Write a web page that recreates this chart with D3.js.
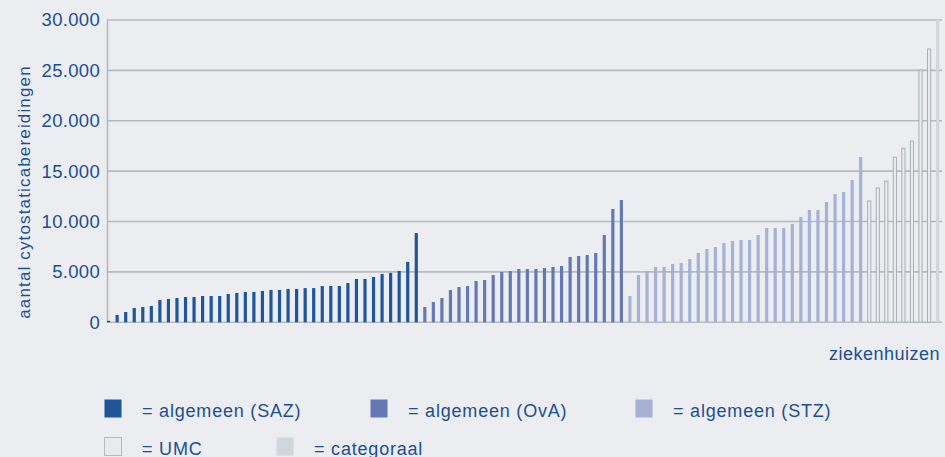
<!DOCTYPE html>
<html>
<head>
<meta charset="utf-8">
<script src="https://cdn.jsdelivr.net/npm/d3@7"></script>
<style>
  body { margin: 0; background: #ecedf0; }
  svg { display: block; font-family: "Liberation Sans", Arial, sans-serif; }
</style>
</head>
<body>
<div id="content"></div>
<script>
// waarden per ziekenhuis, per groep (gesorteerd)
var saz = [150, 720, 1020, 1420, 1520, 1620, 2210, 2310, 2410, 2510, 2510, 2610, 2610, 2610, 2810, 2910, 3010, 3010,
  3110, 3210, 3210, 3310, 3310, 3400, 3400, 3600, 3600, 3600, 3900, 4300, 4300, 4500, 4800, 4900, 5100, 6000, 8860];
var ova = [1520, 2020, 2410, 3200, 3500, 3600, 4100, 4200, 4690, 4990, 5090, 5290, 5290, 5290, 5390, 5490, 5590,
  6480, 6580, 6680, 6880, 8660, 11240, 12140];
var stz = [2610, 4690, 5090, 5490, 5490, 5790, 5890, 6280, 6880, 7270, 7470, 7870, 8070, 8170, 8170, 8660, 9360,
  9360, 9360, 9760, 10450, 11150, 11150, 11940, 12730, 12930, 14120, 16400];
var umc = [12040, 13330, 14020, 16380, 17270, 17990, 25040, 27120];
var categoraal = [30000];

var yTicks = [0, 5000, 10000, 15000, 20000, 25000, 30000];
var groepen = ["saz", "ova", "stz", "umc", "cat"];
var legendaTekst = ["= algemeen (SAZ)", "= algemeen (OvA)", "= algemeen (STZ)", "= UMC", "= categoraal"];

var kleur = { saz: "#1f5599", ova: "#6479b3", stz: "#a6b1d6", umc: "#e8ebee", cat: "#d0d6db" };
var tekstKleur = "#1b4f92";

// alle balken achter elkaar
var data = [];
[[saz, "saz"], [ova, "ova"], [stz, "stz"], [umc, "umc"], [categoraal, "cat"]].forEach(function(g) {
  g[0].forEach(function(v) { data.push({ groep: g[1], waarde: v }); });
});
data.forEach(function(d, i) { d.i = i; });

// dimensiones
var width = 945;
var height = 457;

var svg = d3.select("#content")
  .append("svg")
  .attr("width", width)
  .attr("height", height);

svg.append("rect").attr("width", width).attr("height", height).attr("fill", "#ecedf0");

var x = d3.scaleBand()
  .domain(data.map(function(d) { return d.i; }))
  .range([107, 939.2])
  .paddingInner(0.626)
  .paddingOuter(0)
  .align(0);

var y = d3.scaleLinear()
  .domain([0, 30000])
  .range([322.3, 20]);

// rasterlijnen
svg.append("g")
  .selectAll("line")
  .data(yTicks)
  .enter().append("line")
  .attr("x1", 107)
  .attr("x2", 942)
  .attr("y1", function(d) { return y(d); })
  .attr("y2", function(d) { return y(d); })
  .attr("stroke", "#b4babf")
  .attr("stroke-width", 1.6);

// y-as
var yAxis = d3.axisLeft(y)
  .tickValues(yTicks)
  .tickSize(0)
  .tickPadding(7)
  .tickFormat(function(d) { return d3.format(",")(d).replace(/,/g, "."); });

var ax = svg.append("g")
  .attr("transform", "translate(107,0)")
  .call(yAxis);
ax.select(".domain").attr("stroke", "#b4babf").attr("stroke-width", 1.6);
ax.selectAll("text")
  .attr("fill", tekstKleur)
  .style("font-size", "18.5px")
  .style("letter-spacing", "0.3px");

// balken
svg.append("g")
  .selectAll("rect")
  .data(data)
  .enter().append("rect")
  .attr("x", function(d) { return x(d.i); })
  .attr("y", function(d) { return y(d.waarde); })
  .attr("width", x.bandwidth())
  .attr("height", function(d) { return y(0) - y(d.waarde); })
  .attr("fill", function(d) { return kleur[d.groep]; })
  .attr("stroke", function(d) { return d.groep == "umc" ? "#a9b0b6" : "none"; })
  .attr("stroke-width", 1);

// as-titels
svg.append("text")
  .attr("transform", "translate(30,192) rotate(-90)")
  .attr("text-anchor", "middle")
  .attr("fill", tekstKleur)
  .style("font-size", "17px")
  .style("letter-spacing", "1.15px")
  .text("aantal cytostaticabereidingen");

svg.append("text")
  .attr("x", 940)
  .attr("y", 360)
  .attr("text-anchor", "end")
  .attr("fill", tekstKleur)
  .style("font-size", "18px")
  .style("letter-spacing", "0.5px")
  .text("ziekenhuizen");

// legenda
var legPos = [[104, 399], [370, 399], [635, 399], [104, 437], [276, 437]];

var leg = svg.append("g")
  .selectAll("g")
  .data(groepen)
  .enter().append("g")
  .attr("transform", function(d, i) { return "translate(" + legPos[i][0] + "," + legPos[i][1] + ")"; });

leg.append("rect")
  .attr("x", 0.5)
  .attr("y", 0.5)
  .attr("width", 17)
  .attr("height", 18)
  .attr("fill", function(d) { return kleur[d]; })
  .attr("stroke", function(d) { return d == "umc" ? "#b4babf" : "none"; });

leg.append("text")
  .attr("x", 38)
  .attr("y", 18)
  .attr("fill", tekstKleur)
  .style("font-size", "18px")
  .style("letter-spacing", "0.8px")
  .text(function(d, i) { return legendaTekst[i]; });
</script>
</body>
</html>
